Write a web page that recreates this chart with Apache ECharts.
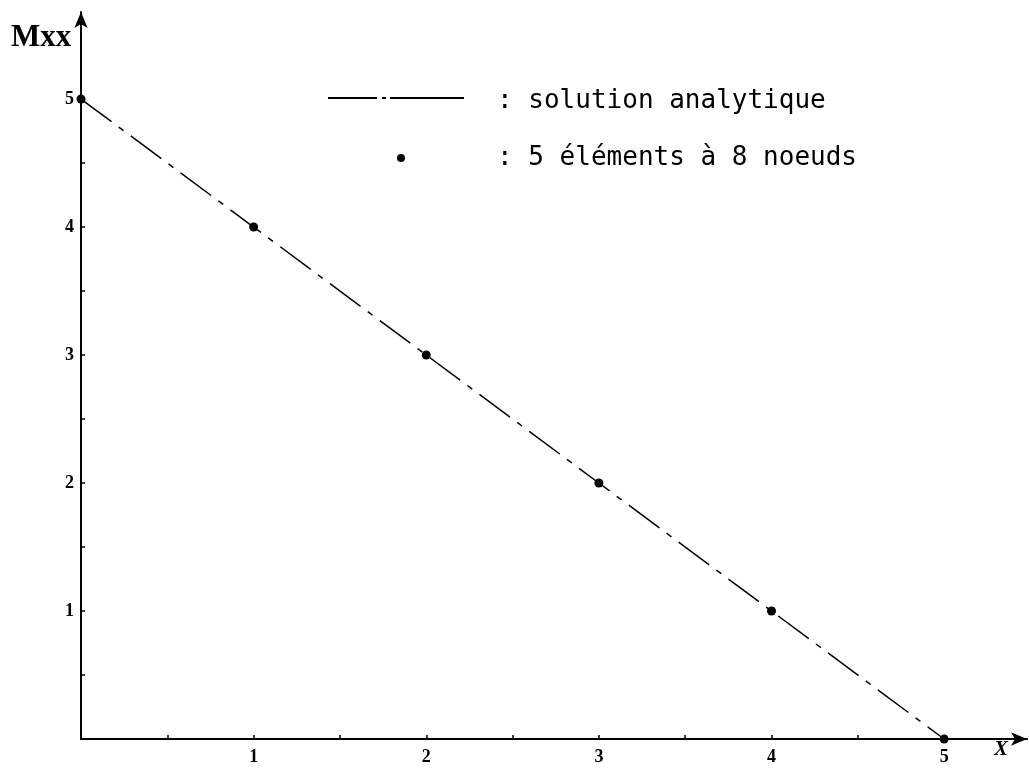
<!DOCTYPE html>
<html>
<head>
<meta charset="utf-8">
<script src="https://cdn.jsdelivr.net/npm/echarts@6/dist/echarts.min.js"></script>
<style>html,body{margin:0;padding:0;background:#fff}#c{width:1029px;height:771px}</style>
</head>
<body>
<div id="c"></div>
<script>
var xValues = [0, 1, 2, 3, 4, 5];
var analytique = [5, 4, 3, 2, 1, 0];
var elements8 = [5, 4, 3, 2, 1, 0];
var tickLabels = [1, 2, 3, 4, 5];
var tickHalf = [0.5, 1, 1.5, 2, 2.5, 3, 3.5, 4, 4.5, 5];

var chart = echarts.init(document.getElementById('c'));
var serif = '"Liberation Serif", "DejaVu Serif", serif';
var mono = '"DejaVu Sans Mono", "Liberation Mono", monospace';
function axisCommon(max) {
  return {
    type: 'value', min: 0, max: max,
    splitLine: { show: false },
    axisLine: { show: true, onZero: false, symbol: ['none', 'arrow'], symbolSize: [10, 16],
      lineStyle: { color: '#000', width: 2 } },
    axisTick: { show: true, inside: true, length: 4, customValues: tickHalf,
      lineStyle: { color: '#000', width: 1.5 } },
    axisLabel: { customValues: tickLabels, color: '#000', fontFamily: serif,
      fontWeight: 'bold', fontSize: 18 }
  };
}
var xAxis = axisCommon(5.48);
xAxis.axisLabel.margin = 9;
var yAxis = axisCommon(5.68);
yAxis.axisLabel.margin = 7;

chart.setOption({
  animation: false,
  grid: { left: 81, right: 2, top: 12, bottom: 32, containLabel: false },
  xAxis: xAxis,
  yAxis: yAxis,
  series: [
    { type: 'line', name: 'solution analytique',
      data: xValues.map(function (x, i) { return [x, analytique[i]]; }),
      showSymbol: false, symbol: 'none',
      lineStyle: { color: '#000', width: 1.5, type: [38, 9, 6, 9] } },
    { type: 'scatter', name: '5 éléments à 8 noeuds',
      data: xValues.map(function (x, i) { return [x, elements8[i]]; }),
      symbol: 'circle', symbolSize: 9, itemStyle: { color: '#000', opacity: 1 } }
  ],
  graphic: [
    { type: 'text', left: 11, top: 22, style: { text: 'Mxx', font: 'bold 31px ' + serif, fill: '#000' } },
    { type: 'text', left: 994, top: 739, style: { text: 'X', font: 'italic bold 21px ' + serif, fill: '#000' } },
    { type: 'line', shape: { x1: 328, y1: 98, x2: 377, y2: 98 }, style: { stroke: '#000', lineWidth: 2 } },
    { type: 'line', shape: { x1: 382, y1: 98, x2: 386, y2: 98 }, style: { stroke: '#000', lineWidth: 2 } },
    { type: 'line', shape: { x1: 390, y1: 98, x2: 464, y2: 98 }, style: { stroke: '#000', lineWidth: 2 } },
    { type: 'circle', shape: { cx: 401, cy: 158, r: 4 }, style: { fill: '#000' } },
    { type: 'text', left: 497, top: 88, style: { text: ': solution analytique', font: '26px ' + mono, fill: '#000' } },
    { type: 'text', left: 497, top: 145, style: { text: ': 5 éléments à 8 noeuds', font: '26px ' + mono, fill: '#000' } }
  ]
});
</script>
</body>
</html>
